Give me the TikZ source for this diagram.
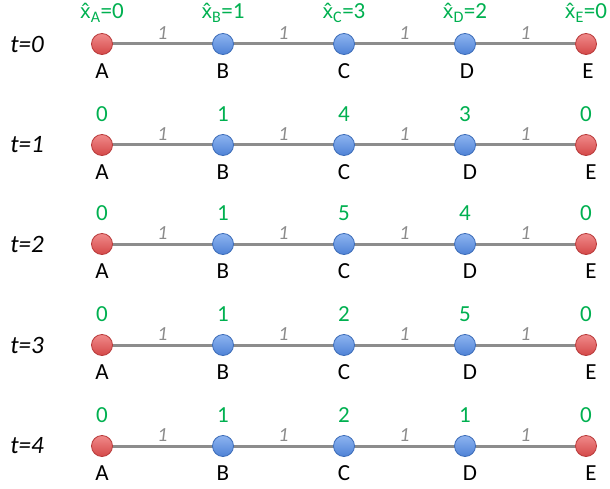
\documentclass[tikz,border=0pt]{standalone}
\usepackage{fontspec}
\setmainfont{Carlito}
\newfontfamily\hatfont[Scale=0.87]{Noto Sans}
\definecolor{valgreen}{HTML}{00B050}
\definecolor{edgegray}{HTML}{8C8C8C}
\definecolor{redtop}{HTML}{F08A8A}
\definecolor{redbot}{HTML}{D44848}
\definecolor{redline}{HTML}{B83A3A}
\definecolor{bluetop}{HTML}{8DB4F0}
\definecolor{bluebot}{HTML}{4F82D6}
\definecolor{blueline}{HTML}{3C6CB8}
\newcommand\myxhat{{\hatfont x̂}}
\begin{document}
\begin{tikzpicture}[x=1pt,y=-1pt,
  ballbase/.style={circle,minimum size=21pt,inner sep=0pt,line width=0.8pt},
  redball/.style={ballbase,top color=redtop,bottom color=redbot,draw=redline},
  blueball/.style={ballbase,top color=bluetop,bottom color=bluebot,draw=blueline},
  edge/.style={draw=edgegray,line width=3pt},
  wlabel/.style={font=\fontsize{20}{20}\selectfont\itshape,text=edgegray},
  vlabel/.style={font=\fontsize{23}{23}\selectfont,text=valgreen,inner sep=0pt},
  nlabel/.style={font=\fontsize{23}{23}\selectfont,inner sep=0pt},
  tlabel/.style={font=\fontsize{25}{25}\selectfont\itshape}
]
\path[use as bounding box] (0,0) rectangle (610,489);
\foreach \r/\yy/\va/\vb/\vc/\vd/\ve/\sh in {0/44/0/1/3/2/0/2,1/145/0/1/4/3/0/5,2/244/0/1/5/4/0/5,3/345/0/1/2/5/0/5,4/446/0/1/2/1/0/5}{
  \node[tlabel] (t\r) at (27,\yy) {t=\r};
  \coordinate (pA\r) at (102,\yy);
  \coordinate (pB\r) at (223,\yy);
  \coordinate (pC\r) at (344,\yy);
  \coordinate (pD\r) at (465,\yy);
  \coordinate (pE\r) at (586,\yy);
  \path[edge] (pA\r) -- node[wlabel,above=0pt] {1} (pB\r)
              -- node[wlabel,above=0pt] {1} (pC\r)
              -- node[wlabel,above=0pt] {1} (pD\r)
              -- node[wlabel,above=0pt] {1} (pE\r);
  \node[redball] (A\r) at (pA\r) {};
  \node[blueball] (B\r) at (pB\r) {};
  \node[blueball] (C\r) at (pC\r) {};
  \node[blueball] (D\r) at (pD\r) {};
  \node[redball] (E\r) at (pE\r) {};
  \foreach \L in {A,B,C}{
    \node[nlabel] (l\L\r) at ([yshift=-27pt]p\L\r) {\L};
  }
  \foreach \L in {D,E}{
    \node[nlabel] (l\L\r) at ([yshift=-27pt,xshift=\sh pt]p\L\r) {\L};
  }
  \ifnum\r=0
    \node[vlabel] (vA\r) at ([yshift=31pt]pA\r) {\myxhat\textsubscript{A}=\va};
    \node[vlabel] (vB\r) at ([yshift=31pt]pB\r) {\myxhat\textsubscript{B}=\vb};
    \node[vlabel] (vC\r) at ([yshift=31pt]pC\r) {\myxhat\textsubscript{C}=\vc};
    \node[vlabel] (vD\r) at ([yshift=31pt]pD\r) {\myxhat\textsubscript{D}=\vd};
    \node[vlabel] (vE\r) at ([yshift=31pt]pE\r) {\myxhat\textsubscript{E}=\ve};
  \else
    \node[vlabel] (vA\r) at ([yshift=31pt]pA\r) {\va};
    \node[vlabel] (vB\r) at ([yshift=31pt]pB\r) {\vb};
    \node[vlabel] (vC\r) at ([yshift=31pt]pC\r) {\vc};
    \node[vlabel] (vD\r) at ([yshift=31pt]pD\r) {\vd};
    \node[vlabel] (vE\r) at ([yshift=31pt]pE\r) {\ve};
  \fi
}
\end{tikzpicture}
\end{document}
